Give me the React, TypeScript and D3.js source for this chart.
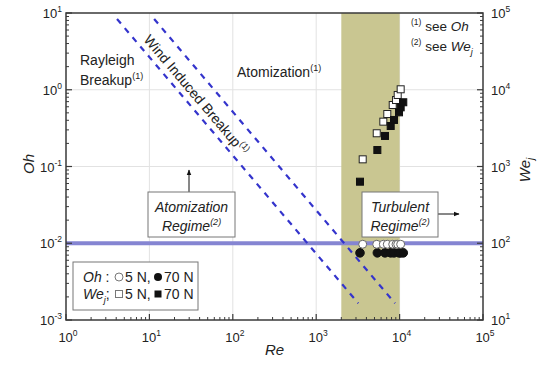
import React from "react";
import * as d3 from "d3";

// ---- data ----
const reDecades = [1, 10, 100, 1000, 10000, 100000];
const reExp = ["0", "1", "2", "3", "4", "5"];
const ohDecades = [10, 1, 0.1, 0.01, 0.001];
const ohExp = ["1", "0", "-1", "-2", "-3"];
const weDecades = [100000, 10000, 1000, 100, 10];
const weExp = ["5", "4", "3", "2", "1"];

// turbulent band (Re)
const bandRe = [2000, 10000];
// horizontal Oh reference line
const ohLine = 0.01;
// dashed boundaries [Re, Oh]
const rayleighBoundary: [number, number][] = [[4.09, 8.36], [3200, 0.00165]];
const windBoundary: [number, number][] = [[11.4, 8.36], [8810, 0.00165]];

// 5 N series
const re5 = [3610, 5320, 6380, 7120, 8270, 9060, 9490, 10300];
const oh5 = [0.0097, 0.0097, 0.0097, 0.0097, 0.0097, 0.0097, 0.0097, 0.0097];
const we5 = [1240, 2710, 3840, 4830, 6330, 7350, 8550, 10140];
// 70 N series
const re70 = [3350, 5410, 6680, 7820, 8570, 9840, 10300, 11070];
const oh70 = [0.0075, 0.0075, 0.0075, 0.0075, 0.0075, 0.0075, 0.0075, 0.0075];
const we70 = [634, 1640, 2500, 3370, 4040, 5080, 5900, 6870];

const FONT = "'Liberation Sans', Arial, sans-serif";
const L = 66, R = 483, T = 13, B = 320;

export default function App() {
  const x = d3.scaleLog().domain([1, 1e5]).range([L, R]);
  const yOh = d3.scaleLog().domain([1e-3, 10]).range([B, T]);
  const yWe = d3.scaleLog().domain([10, 1e5]).range([B, T]);

  const minorX: number[] = [];
  for (let d = 1; d < 1e5; d *= 10) for (let k = 2; k <= 9; k++) minorX.push(d * k);
  const minorOh: number[] = [];
  for (let d = 1e-3; d < 10; d *= 10) for (let k = 2; k <= 9; k++) minorOh.push(d * k);
  const minorWe: number[] = [];
  for (let d = 10; d < 1e5; d *= 10) for (let k = 2; k <= 9; k++) minorWe.push(d * k);

  const line = d3.line<[number, number]>().x((d) => x(d[0])).y((d) => yOh(d[1]));
  const axisColor = "#3a3a3a";
  const dashColor = "#3434cc";

  const Pow = ({ px, py, e, anchor }: { px: number; py: number; e: string; anchor: string }) => (
    <text x={px} y={py} textAnchor={anchor} fontSize={13} fill="#222" fontFamily={FONT}>
      10<tspan dy={-6} fontSize={8.5}>{e}</tspan>
    </text>
  );

  return (
    <svg width={544} height={372} style={{ position: "absolute", left: 0, top: 0, background: "#fff" }} fontFamily={FONT}>
      <defs>
        <marker id="arr" viewBox="0 0 10 10" refX="9" refY="5" markerWidth="6" markerHeight="6" orient="auto">
          <path d="M0,1 L10,5 L0,9 z" fill="#111" />
        </marker>
      </defs>
      {/* grid */}
      {reDecades.slice(1, -1).map((d) => (
        <line key={"gx" + d} x1={x(d)} x2={x(d)} y1={T} y2={B} stroke="#e2e2e2" strokeWidth={1} />
      ))}
      {ohDecades.slice(1, -1).map((d) => (
        <line key={"gy" + d} x1={L} x2={R} y1={yOh(d)} y2={yOh(d)} stroke="#e2e2e2" strokeWidth={1} />
      ))}
      {/* band */}
      <rect x={x(bandRe[0])} y={T} width={x(bandRe[1]) - x(bandRe[0])} height={B - T} fill="#c9c691" />
      {/* horizontal Oh line */}
      <line x1={L} x2={R} y1={yOh(ohLine)} y2={yOh(ohLine)} stroke="#8585d2" strokeWidth={4} />
      {/* dashed lines */}
      <path d={line(rayleighBoundary) || ""} stroke={dashColor} strokeWidth={2.2} strokeDasharray="6,6" fill="none" />
      <path d={line(windBoundary) || ""} stroke={dashColor} strokeWidth={2.2} strokeDasharray="6,6" fill="none" />

      {/* squares We_j */}
      {re5.map((r, i) => (
        <rect key={"s5" + i} x={x(r) - 3.5} y={yWe(we5[i]) - 3.5} width={7} height={7} fill="#fff" stroke="#222" strokeWidth={1} />
      ))}
      {re70.map((r, i) => (
        <rect key={"s70" + i} x={x(r) - 3.5} y={yWe(we70[i]) - 3.5} width={7} height={7} fill="#111" stroke="#111" strokeWidth={1} />
      ))}
      {/* circles Oh */}
      {re70.map((r, i) => (
        <circle key={"c70" + i} cx={x(r)} cy={yOh(oh70[i])} r={4.3} fill="#111" stroke="#111" />
      ))}
      {re5.map((r, i) => (
        <circle key={"c5" + i} cx={x(r)} cy={yOh(oh5[i])} r={4} fill="#fff" stroke="#666" strokeWidth={1} />
      ))}

      {/* frame */}
      <rect x={L} y={T} width={R - L} height={B - T} fill="none" stroke={axisColor} strokeWidth={1.5} />
      {/* bottom ticks */}
      {reDecades.map((d) => (
        <line key={"bt" + d} x1={x(d)} x2={x(d)} y1={B} y2={B - 6} stroke={axisColor} strokeWidth={1.2} />
      ))}
      {minorX.map((d) => (
        <line key={"bm" + d} x1={x(d)} x2={x(d)} y1={B} y2={B - 3} stroke={axisColor} strokeWidth={1} />
      ))}
      {/* left ticks */}
      {ohDecades.map((d) => (
        <line key={"lt" + d} x1={L} x2={L + 6} y1={yOh(d)} y2={yOh(d)} stroke={axisColor} strokeWidth={1.2} />
      ))}
      {minorOh.map((d) => (
        <line key={"lm" + d} x1={L} x2={L + 3} y1={yOh(d)} y2={yOh(d)} stroke={axisColor} strokeWidth={1} />
      ))}
      {/* right ticks */}
      {weDecades.map((d) => (
        <line key={"rt" + d} x1={R} x2={R - 6} y1={yWe(d)} y2={yWe(d)} stroke={axisColor} strokeWidth={1.2} />
      ))}
      {minorWe.map((d) => (
        <line key={"rm" + d} x1={R} x2={R - 3} y1={yWe(d)} y2={yWe(d)} stroke={axisColor} strokeWidth={1} />
      ))}

      {/* tick labels */}
      {reDecades.map((d, i) => (
        <Pow key={"bl" + d} px={x(d) + 2} py={342} e={reExp[i]} anchor="middle" />
      ))}
      {ohDecades.map((d, i) => (
        <Pow key={"ll" + d} px={62} py={yOh(d) + 5} e={ohExp[i]} anchor="end" />
      ))}
      {weDecades.map((d, i) => (
        <Pow key={"rl" + d} px={491} py={yWe(d) + 5} e={weExp[i]} anchor="start" />
      ))}

      {/* axis titles */}
      <text x={x(316)} y={355} textAnchor="middle" fontSize={15} fontStyle="italic" fill="#222">Re</text>
      <text transform="translate(34,164) rotate(-90)" textAnchor="middle" fontSize={15} fontStyle="italic" fill="#222">Oh</text>
      <text transform="translate(530,170) rotate(-90)" textAnchor="middle" fontSize={15} fontStyle="italic" fill="#222">
        We<tspan dy={4} fontSize={10}>j</tspan>
      </text>

      {/* region annotations */}
      <text x={80} y={65} fontSize={14} fill="#222">Rayleigh</text>
      <text x={80} y={85} fontSize={14} fill="#222">
        Breakup<tspan dy={-6} fontSize={9}>(1)</tspan>
      </text>
      <text x={237} y={77} fontSize={14} fill="#222">
        Atomization<tspan dy={-6} fontSize={9}>(1)</tspan>
      </text>
      <text transform="translate(143,40) rotate(49.7)" fontSize={14} fill="#222">
        Wind Induced Breakup<tspan dy={-6} fontSize={9}>(1)</tspan>
      </text>
      <text x={411} y={31} fontSize={13.5} fill="#222">
        <tspan fontSize={8.5} dy={-6}>(1)</tspan>
        <tspan dy={6}> see </tspan>
        <tspan fontStyle="italic">Oh</tspan>
      </text>
      <text x={411} y={51} fontSize={13.5} fill="#222">
        <tspan fontSize={8.5} dy={-6}>(2)</tspan>
        <tspan dy={6}> see </tspan>
        <tspan fontStyle="italic">We</tspan>
        <tspan fontStyle="italic" fontSize={9} dy={4}>j</tspan>
      </text>

      {/* Atomization regime box */}
      <line x1={189} x2={189} y1={192} y2={170} stroke="#111" strokeWidth={1} markerEnd="url(#arr)" />
      <rect x={148} y={192} width={87} height={45} fill="#fff" stroke="#777" strokeWidth={1} />
      <text x={191.5} y={212} textAnchor="middle" fontSize={14} fontStyle="italic" fill="#222">Atomization</text>
      <text x={191.5} y={231} textAnchor="middle" fontSize={14} fontStyle="italic" fill="#222">
        Regime<tspan dy={-6} fontSize={9}>(2)</tspan>
      </text>

      {/* Turbulent regime box */}
      <line x1={438} x2={459} y1={214} y2={214} stroke="#111" strokeWidth={1} markerEnd="url(#arr)" />
      <rect x={362} y={192} width={76} height={45} fill="#fff" stroke="#777" strokeWidth={1} />
      <text x={400} y={212} textAnchor="middle" fontSize={14} fontStyle="italic" fill="#222">Turbulent</text>
      <text x={400} y={231} textAnchor="middle" fontSize={14} fontStyle="italic" fill="#222">
        Regime<tspan dy={-6} fontSize={9}>(2)</tspan>
      </text>

      {/* legend */}
      <rect x={73} y={262} width={125} height={48} fill="#fff" stroke="#777" strokeWidth={1} />
      <text x={83} y={282} fontSize={14} fill="#222">
        <tspan fontStyle="italic">Oh</tspan>
        <tspan> :</tspan>
      </text>
      <circle cx={119} cy={277} r={4} fill="#fff" stroke="#777" strokeWidth={1} />
      <text x={125} y={282} fontSize={14} fill="#222">5 N,</text>
      <circle cx={158} cy={277} r={4} fill="#111" />
      <text x={164} y={282} fontSize={14} fill="#222">70 N</text>

      <text x={83} y={299} fontSize={14} fill="#222">
        <tspan fontStyle="italic">We</tspan>
        <tspan fontStyle="italic" fontSize={9} dy={4}>j</tspan>
        <tspan dy={-4}>;</tspan>
      </text>
      <rect x={115.5} y={290.5} width={7} height={7} fill="#fff" stroke="#777" strokeWidth={1} />
      <text x={125} y={299} fontSize={14} fill="#222">5 N,</text>
      <rect x={154.5} y={290.5} width={7} height={7} fill="#111" />
      <text x={164} y={299} fontSize={14} fill="#222">70 N</text>
    </svg>
  );
}
